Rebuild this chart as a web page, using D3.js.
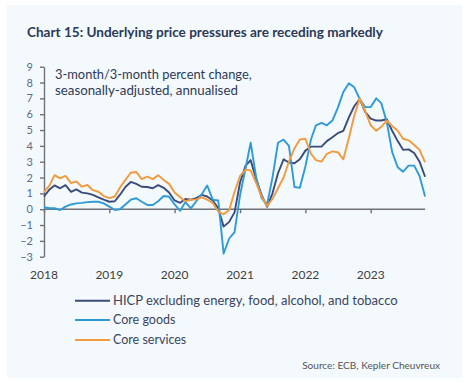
<!DOCTYPE html>
<html><head><meta charset="utf-8">
<script src="https://cdn.jsdelivr.net/npm/d3@7"></script>
<style>body{margin:0;background:#fff;} text{font-family:Lato,"Open Sans",sans-serif;}</style>
</head><body><svg id="c" width="470" height="383"></svg>
<script>
const startYear = 2018;
const yearLabels = ["2018","2019","2020","2021","2022","2023"];
const yTicks = [-3,-2,-1,0,1,2,3,4,5,6,7,8,9];
const seriesNames = ["HICP excluding energy, food, alcohol, and tobacco","Core goods","Core services"];
const hicpCore = [0.8,1.25,1.5,1.32,1.52,1.1,1.25,1.05,1.0,0.9,
 0.75,0.6,0.47,0.5,0.9,1.4,1.72,1.6,1.42,1.4,
 1.32,1.52,1.35,1.05,0.55,0.4,0.65,0.6,0.7,0.9,
 0.8,0.55,0.05,-1.1,-0.8,-0.2,1.7,2.75,3.1,1.9,
 0.9,0.15,1.0,2.27,3.15,2.95,2.9,3.15,3.7,3.95,
 3.95,3.95,4.3,4.55,4.8,4.95,5.8,6.5,6.95,6.15,
 5.72,5.6,5.6,5.68,4.95,4.3,3.75,3.78,3.55,3.0,2.05];
const coreGoods = [0.12,0.06,0.06,-0.05,0.16,0.3,0.37,0.4,0.45,0.47,
 0.47,0.37,0.16,-0.05,0.0,0.3,0.6,0.69,0.47,0.27,
 0.27,0.5,0.83,0.79,0.3,-0.1,0.45,0.05,0.5,0.95,
 1.5,0.6,0.55,-2.8,-1.85,-1.45,0.9,2.6,4.2,2.0,
 0.7,0.3,2.0,4.2,4.4,4.0,1.4,1.35,2.7,4.4,
 5.3,5.45,5.3,5.6,6.4,7.4,7.95,7.7,6.95,6.45,
 6.45,7.0,6.7,5.5,3.6,2.65,2.37,2.75,2.75,2.1,0.8];
const coreServices = [1.1,1.5,2.15,1.95,2.1,1.65,1.75,1.42,1.53,1.2,
 1.1,0.83,0.7,0.8,1.35,1.85,2.3,2.35,1.9,2.05,
 1.9,2.15,1.84,1.6,1.05,0.75,0.5,0.6,0.62,0.75,
 0.6,0.4,-0.15,-0.32,-0.05,1.1,2.1,2.5,2.45,1.65,
 0.8,0.2,0.65,1.32,2.0,3.0,3.85,4.4,4.45,3.5,
 3.1,3.0,3.5,3.65,3.6,3.15,4.5,5.9,7.0,6.2,
 5.3,4.95,5.2,5.6,5.25,4.95,4.45,4.35,4.05,3.75,2.95];
const colors = ["#3a4c7a","#2e9bd6","#f29a3c"];

const months = hicpCore.map((_, i) => new Date(startYear, i, 1));
const yearDates = yearLabels.map(s => new Date(+s, 0, 1));

const svg = d3.select("#c");
svg.append("rect").attr("x",7).attr("y",5).attr("width",455).attr("height",373).attr("fill","#f4f9fd");

const x = d3.scaleTime().domain([new Date(2018,0,1), new Date(2024,0,1)]).range([44, 436]);
const y = d3.scaleLinear().domain([-3, 9]).range([256.7, 66.7]);

function fit(sel, w){ const n = sel.node(); const cur = n.getComputedTextLength(); const fs = parseFloat(sel.attr("font-size")); sel.attr("font-size", (fs*w/cur).toFixed(2)); }

// title
fit(svg.append("text").attr("x",27).attr("y",37.3).attr("font-size",13).attr("font-weight","bold").attr("fill","#2c3a56")
  .text("Chart 15: Underlying price pressures are receding markedly"), 356);
fit(svg.append("text").attr("x",55).attr("y",78.5).attr("font-size",12).attr("fill","#2c3a56")
  .text("3-month/3-month percent change,"), 197);
fit(svg.append("text").attr("x",55).attr("y",95).attr("font-size",12).attr("fill","#2c3a56")
  .text("seasonally-adjusted, annualised"), 183);

// y axis
const ya = svg.append("g").attr("transform","translate(44,0)")
  .call(d3.axisLeft(y).tickValues(yTicks).tickSize(4).tickSizeOuter(0).tickPadding(7).tickFormat(d3.format("d")));
ya.selectAll("path,line").attr("stroke","#6f7276").attr("stroke-width",1.4);
ya.selectAll("text").attr("font-size",11).attr("fill","#5b6b88").attr("font-family","Lato,'Open Sans',sans-serif");

// x axis on zero line
const xa = svg.append("g").attr("transform",`translate(0,${y(0)})`)
  .call(d3.axisBottom(x).tickValues(yearDates).tickSize(4).tickFormat(""));
xa.select(".domain").remove();
xa.selectAll("line").attr("stroke","#6f7276").attr("stroke-width",1.4);
svg.append("line").attr("x1",x(months[0])).attr("x2",x(months[months.length-1]))
  .attr("y1",y(0)).attr("y2",y(0)).attr("stroke","#6f7276").attr("stroke-width",1.4);

// year labels
svg.append("g").selectAll("text").data(yearDates).join("text")
  .attr("x", d => x(d)).attr("y", 279).attr("text-anchor","middle")
  .attr("font-size",12).attr("fill","#404040").text((d,i) => yearLabels[i]);

// lines
const line = d3.line().x((d,i) => x(months[i])).y(d => y(d)).curve(d3.curveLinear);
[hicpCore, coreGoods, coreServices].forEach((s, k) => {
  svg.append("path").datum(s).attr("d", line).attr("fill","none")
    .attr("stroke", colors[k]).attr("stroke-width",1.9).attr("stroke-linejoin","round");
});

// legend
const legY = [300.7, 320, 340];
const legW = [285, null, null];
seriesNames.forEach((n, k) => {
  svg.append("line").attr("x1",75).attr("x2",110).attr("y1",legY[k]).attr("y2",legY[k])
    .attr("stroke",colors[k]).attr("stroke-width",2);
  const t = svg.append("text").attr("x",113).attr("y",legY[k]+4.3).attr("font-size",12.5).attr("fill","#3a4660").text(n);
  if (legW[k]) fit(t, legW[k]);
});

// source
const src = svg.append("text").attr("x",440).attr("y",369).attr("text-anchor","end").attr("font-size",9.5)
  .attr("fill","#555").text("Source: ECB, Kepler Cheuvreux");
fit(src, 138);
</script></body></html>
